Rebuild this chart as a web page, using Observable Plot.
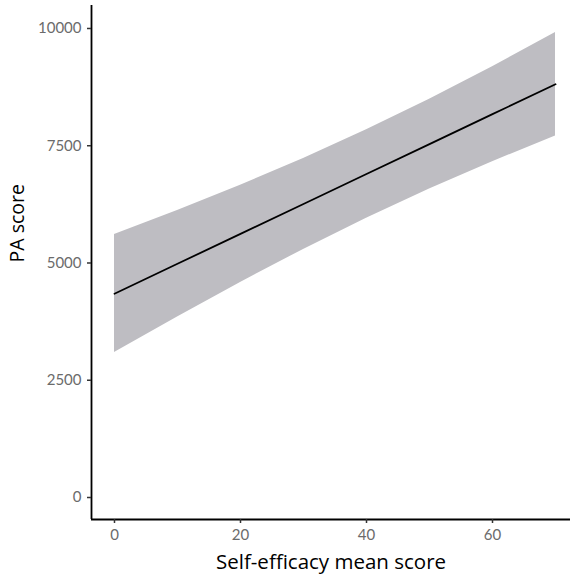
<!DOCTYPE html>
<html>
<head>
<meta charset="utf-8">
<script src="https://cdn.jsdelivr.net/npm/d3@7"></script>
<script src="https://cdn.jsdelivr.net/npm/@observablehq/plot@0.6"></script>
<style>
  html, body { margin: 0; padding: 0; background: #fff; }
  #chart svg { display: block; }
</style>
</head>
<body>
<div id="chart"></div>
<script>
// Self-efficacy mean score (x) and fitted PA score with confidence band
const selfEfficacy = [0, 10, 20, 30, 40, 50, 60, 70];
const paFit   = [4345, 4983, 5621, 6259, 6897, 7535, 8173, 8810];
const paLower = [3090, 3850, 4585, 5290, 5955, 6577, 7160, 7707];
const paUpper = [5610, 6118, 6658, 7229, 7840, 8493, 9186, 9913];
const xTicks = [0, 20, 40, 60];
const yTicks = [0, 2500, 5000, 7500, 10000];
const xLabel = "Self-efficacy mean score";
const yLabel = "PA score";

const data = selfEfficacy.map((v, i) => ({x: v, fit: paFit[i], lo: paLower[i], hi: paUpper[i]}));
const xDomain = [-3.65, 72.38];
const yDomain = [-469, 10490];

const chart = Plot.plot({
  width: 573,
  height: 585,
  marginLeft: 91,
  marginRight: 3,
  marginTop: 5,
  marginBottom: 66,
  style: {fontFamily: "Lato, 'Open Sans', sans-serif", background: "#fff"},
  x: {domain: xDomain},
  y: {domain: yDomain},
  marks: [
    Plot.areaY(data, {x: "x", y1: "lo", y2: "hi", fill: "#bebdc2"}),
    Plot.lineY(data, {x: "x", y: "fit", stroke: "#000", strokeWidth: 1.8}),
    Plot.ruleX([xDomain[0]], {stroke: "#000", strokeWidth: 1.8}),
    Plot.ruleY([yDomain[0]], {stroke: "#000", strokeWidth: 1.8}),
    Plot.axisX({ticks: xTicks, tickSize: 4, tickPadding: 6, fontSize: 15, stroke: "#333", strokeWidth: 1.5, fill: "#6b6b6b", label: null, tickFormat: d => String(d)}),
    Plot.axisY({ticks: yTicks, tickSize: 4, tickPadding: 6, fontSize: 15, stroke: "#333", strokeWidth: 1.5, fill: "#6b6b6b", label: null, tickFormat: d => String(d)}),
    Plot.text([xLabel], {frameAnchor: "bottom", dy: 49, fontSize: 20.5, fontFamily: "'Open Sans', sans-serif", fill: "#000"}),
    Plot.text([yLabel], {frameAnchor: "left", dx: -74, rotate: -90, fontSize: 19.5, fontFamily: "'Open Sans', sans-serif", fill: "#000"})
  ]
});
document.getElementById("chart").appendChild(chart);
</script>
</body>
</html>
